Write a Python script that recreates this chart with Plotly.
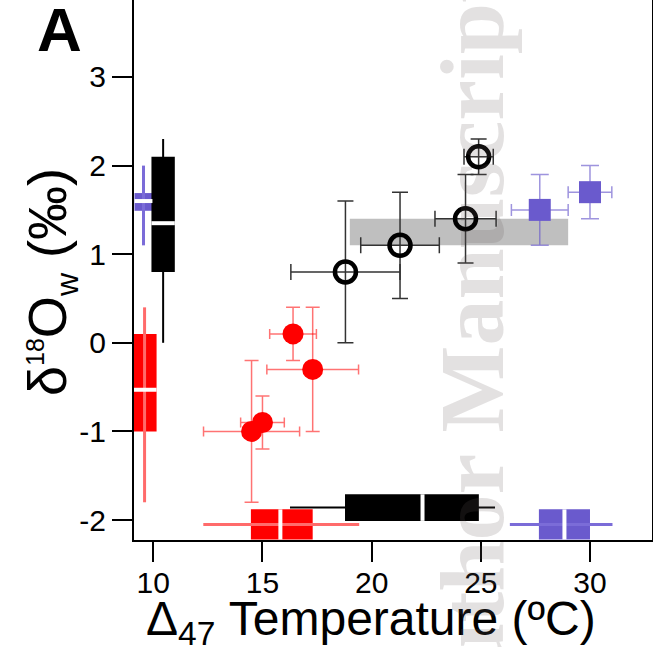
import plotly.graph_objects as go

# ---------------- data ----------------
# Red: filled circles
red_T = [16.4, 17.3, 15.0, 14.5]
red_T_err = [1.07, 2.1, 1.0, 2.2]
red_d18O = [0.1, -0.3, -0.9, -1.0]
red_d18O_err = [0.3, 0.7, 0.3, 0.8]

# Black: open circles
blk_T = [18.8, 21.3, 24.3, 24.9]
blk_T_err = [2.5, 1.8, 1.4, 0.67]
blk_d18O = [0.8, 1.1, 1.4, 2.1]
blk_d18O_err = [0.8, 0.6, 0.5, 0.2]

# Purple: filled squares
pur_T = [27.7, 30.0]
pur_T_err = [1.3, 1.0]
pur_d18O = [1.5, 1.7]
pur_d18O_err = [0.4, 0.3]

# Grey band (T range, d18O range)
band_T = [19.0, 29.0]
band_d18O = [1.1, 1.4]

# Vertical box plots (d18O distributions): position, lo, q1, median, q3, hi
vbox_names = ["purple", "black", "red"]
vbox_pos = [9.55, 10.45, 9.6]
vbox_lo = [1.1, 0.0, -1.8]
vbox_q1 = [1.49, 0.8, -1.0]
vbox_med = [1.6, 1.35, -0.53]
vbox_q3 = [1.69, 2.1, 0.1]
vbox_hi = [2.0, 2.3, 0.4]

# Horizontal box plots (temperature distributions)
hbox_names = ["red", "black", "purple"]
hbox_pos = [-2.05, -1.86, -2.05]
hbox_lo = [12.29, 16.26, 26.33]
hbox_q1 = [14.47, 18.78, 27.66]
hbox_med = [15.82, 22.33, 28.83]
hbox_q3 = [17.3, 24.91, 30.0]
hbox_hi = [19.43, 25.65, 31.03]

x_ticks = [10, 15, 20, 25, 30]
y_ticks = [-2, -1, 0, 1, 2, 3]
y_ticktext = ["-2", "-1", "0", "1", "2", "3"]

# ---------------- styles ----------------
fill = {"red": "#ff0000", "black": "#000000", "purple": "#6a5acd"}
whisk = {"red": "#ff6b6b", "black": "#000000", "purple": "#7b6cd8"}
whisk_w = {"red": 3, "black": 2, "purple": 3}
vbox_width = {"purple": 0.82, "black": 1.07, "red": 1.1}
hbox_height = {"red": 0.34, "black": 0.30, "purple": 0.34}

fig = go.Figure()

# vertical boxes
for i, n in enumerate(vbox_names):
    p = vbox_pos[i]
    w = vbox_width[n]
    fig.add_trace(go.Scatter(x=[p, p], y=[vbox_lo[i], vbox_hi[i]], mode="lines",
                             line=dict(color=whisk[n], width=whisk_w[n]),
                             showlegend=False, hoverinfo="skip"))
    fig.add_trace(go.Bar(x=[p], y=[vbox_q3[i] - vbox_q1[i]], base=[vbox_q1[i]],
                         width=[w], marker=dict(color=fill[n], line=dict(width=0)),
                         showlegend=False))
    fig.add_trace(go.Scatter(x=[p - w / 2, p + w / 2], y=[vbox_med[i], vbox_med[i]],
                             mode="lines", line=dict(color="white", width=4),
                             showlegend=False, hoverinfo="skip"))

# horizontal boxes
for i, n in enumerate(hbox_names):
    p = hbox_pos[i]
    h = hbox_height[n]
    fig.add_trace(go.Scatter(x=[hbox_lo[i], hbox_hi[i]], y=[p, p], mode="lines",
                             line=dict(color=whisk[n], width=whisk_w[n]),
                             showlegend=False, hoverinfo="skip"))
    fig.add_trace(go.Bar(y=[p], x=[hbox_q3[i] - hbox_q1[i]], base=[hbox_q1[i]],
                         width=[h], orientation="h",
                         marker=dict(color=fill[n], line=dict(width=0)),
                         showlegend=False))
    fig.add_trace(go.Scatter(x=[hbox_med[i], hbox_med[i]], y=[p - h / 2, p + h / 2],
                             mode="lines", line=dict(color="white", width=4),
                             showlegend=False, hoverinfo="skip"))

# points with error bars
fig.add_trace(go.Scatter(
    x=red_T, y=red_d18O, mode="markers",
    marker=dict(symbol="circle", size=21, color="#ff0000"),
    error_x=dict(type="data", array=red_T_err, color="rgba(255,0,0,0.55)", thickness=1.5, width=5),
    error_y=dict(type="data", array=red_d18O_err, color="rgba(255,0,0,0.55)", thickness=1.5, width=7),
    showlegend=False))

fig.add_trace(go.Scatter(
    x=blk_T, y=blk_d18O, mode="markers",
    marker=dict(symbol="circle-open", size=21, color="#000000", line=dict(width=4.5, color="#000000")),
    error_x=dict(type="data", array=blk_T_err, color="#333333", thickness=1.5, width=8),
    error_y=dict(type="data", array=blk_d18O_err, color="#333333", thickness=1.5, width=8),
    showlegend=False))

fig.add_trace(go.Scatter(
    x=pur_T, y=pur_d18O, mode="markers",
    marker=dict(symbol="square", size=22, color="#6a5acd"),
    error_x=dict(type="data", array=pur_T_err, color="rgba(106,90,205,0.65)", thickness=1.5, width=6),
    error_y=dict(type="data", array=pur_d18O_err, color="rgba(106,90,205,0.65)", thickness=1.5, width=9),
    showlegend=False))

fig.add_shape(type="rect", xref="x", yref="y",
              x0=band_T[0], x1=band_T[1], y0=band_d18O[0], y1=band_d18O[1],
              fillcolor="#bfbfbf", line=dict(width=0), layer="below")

font_main = "Liberation Sans, Arial, sans-serif"

fig.update_layout(
    width=653, height=647,
    margin=dict(l=134, r=1, t=0, b=107),
    paper_bgcolor="white", plot_bgcolor="white",
    barmode="overlay",
    font=dict(family=font_main, color="black"),
    xaxis=dict(range=[9.116, 32.84], tickvals=x_ticks, ticks="outside", ticklen=20,
               tickwidth=2, tickcolor="black", showline=True, linewidth=2, linecolor="black",
               showgrid=False, zeroline=False, ticklabelstandoff=-5,
               tickfont=dict(size=30, family=font_main)),
    yaxis=dict(range=[-2.2257, 3.869], tickvals=y_ticks, ticktext=y_ticktext, ticks="outside",
               ticklen=20, tickwidth=2, tickcolor="black", showline=True, linewidth=2,
               linecolor="black", mirror=True, showgrid=False, zeroline=False,
               tickfont=dict(size=30, family=font_main)),
    annotations=[
        dict(text="<b>A</b>", xref="paper", yref="paper", x=-0.1438, y=0.946,
             xanchor="center", yanchor="middle", showarrow=False,
             font=dict(size=62, family=font_main, color="black")),
        dict(text="Δ<sub>47</sub> Temperature (ºC)", xref="paper", yref="paper",
             x=0.4575, y=-0.151, xanchor="center", yanchor="middle", showarrow=False,
             font=dict(size=48, family=font_main, color="black")),
        dict(text="δ<sup><span style=\"font-size:25px\">18</span></sup>O"
                  "<sub><span style=\"font-size:32px\">w</span></sub> (‰)",
             xref="paper", yref="paper",
             x=-0.16, y=0.478, xanchor="center", yanchor="middle", showarrow=False,
             textangle=-90, font=dict(size=54, family=font_main, color="black")),
        dict(text="<b>Author Manuscript</b>", xref="paper", yref="paper",
             x=0.6525, y=0.3407, xanchor="center", yanchor="middle", showarrow=False,
             textangle=-90, font=dict(size=92, family="Liberation Serif, Times New Roman, serif",
                                      color="rgba(100,90,90,0.18)")),
    ],
)

fig.write_html("out.html")
